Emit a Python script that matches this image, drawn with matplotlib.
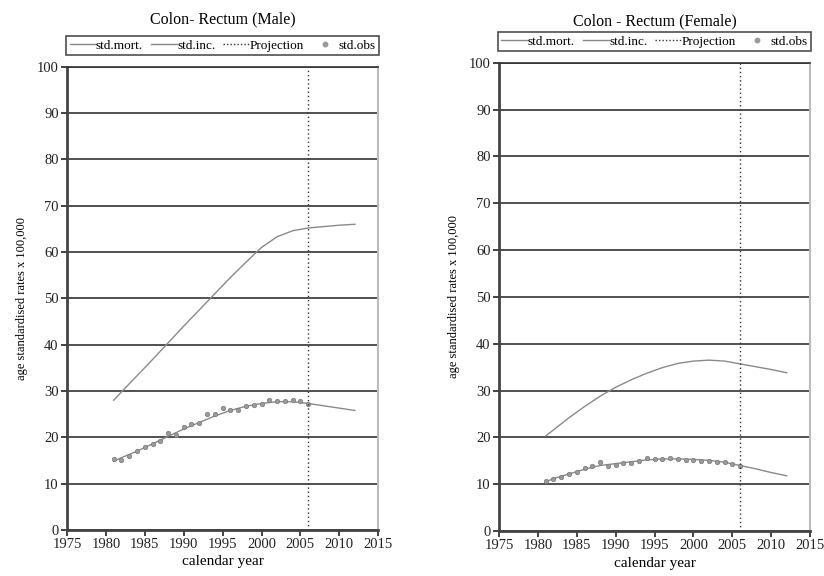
import numpy as np
import matplotlib
matplotlib.use("Agg")
import matplotlib.pyplot as plt
from matplotlib.lines import Line2D

plt.rcParams['font.family'] = ['Liberation Serif', 'DejaVu Serif']

# ---- data ----
years_fit = [1981, 1982, 1984, 1986, 1988, 1990, 1992, 1994, 1996, 1998, 2000,
             2002, 2004, 2006, 2008, 2010, 2012]
obs_years = list(range(1981, 2007))

male_inc = [28.0, 29.8, 33.3, 36.8, 40.4, 44.0, 47.5, 51.0, 54.5, 57.8, 61.0,
            63.3, 64.6, 65.2, 65.5, 65.8, 66.0]
male_mort = [14.8, 15.6, 17.0, 18.6, 20.2, 21.8, 23.2, 24.6, 25.8, 26.7, 27.3,
             27.7, 27.7, 27.3, 26.8, 26.3, 25.8]
male_obs = [15.3, 15.2, 16.0, 17.0, 17.8, 18.5, 19.3, 21.0, 20.5, 22.2, 22.8,
            23.0, 25.0, 25.0, 26.3, 26.0, 25.8, 26.8, 27.0, 27.2, 28.0, 27.8,
            27.8, 28.0, 27.8, 27.2]

fem_inc = [20.3, 21.6, 24.2, 26.6, 28.8, 30.7, 32.3, 33.7, 34.9, 35.8, 36.3,
           36.5, 36.3, 35.7, 35.1, 34.5, 33.8]
fem_mort = [10.5, 11.2, 12.2, 13.2, 14.0, 14.4, 14.8, 15.2, 15.4, 15.4, 15.3,
            15.1, 14.7, 14.0, 13.3, 12.5, 11.8]
fem_obs = [10.7, 11.2, 11.6, 12.1, 12.6, 13.5, 13.8, 14.8, 13.8, 14.2, 14.6,
           14.6, 15.0, 15.5, 15.3, 15.4, 15.5, 15.3, 15.2, 15.1, 14.9, 15.0,
           14.7, 14.7, 14.3, 13.8]

proj_year = 2006
titles = ["Colon- Rectum (Male)", "Colon - Rectum (Female)"]

fig = plt.figure(figsize=(8.24, 5.76), dpi=100)
ax1 = fig.add_axes([0.0813, 0.080, 0.3777, 0.804])
ax2 = fig.add_axes([0.6056, 0.078, 0.3775, 0.813])

line_col = "#8a8a8a"

def draw(ax, inc, mort, obs, title, tpad):
    ax.plot(years_fit, inc, color=line_col, lw=1.0)
    ax.plot(years_fit, mort, color=line_col, lw=1.0)
    ax.plot(obs_years, obs, ls="none", marker="o", ms=3.2, color="#9a9a9a",
            mec="#7a7a7a", mew=0.5)
    ax.axvline(proj_year, color="#333333", ls=(0, (1, 2)), lw=1.0)
    ax.set_xlim(1975, 2015)
    ax.set_ylim(0, 100)
    ax.set_xticks(np.arange(1975, 2016, 5))
    ax.set_yticks(np.arange(0, 101, 10))
    ax.grid(axis="y", color="#333333", lw=1.2)
    ax.set_axisbelow(True)
    for s in ["left", "bottom"]:
        ax.spines[s].set_linewidth(2.0)
        ax.spines[s].set_color("#444444")
    ax.spines["right"].set_color("#bbbbbb")
    ax.spines["right"].set_linewidth(1.5)
    ax.spines["top"].set_color("#333333")
    ax.spines["top"].set_linewidth(1.2)
    ax.tick_params(direction="out", length=4, width=1.2, labelsize=10.5,
                   colors="#222222", pad=2)
    ax.set_xlabel("calendar year", fontsize=11, labelpad=3)
    ax.set_ylabel("age standardised rates x 100,000", fontsize=9, labelpad=6)
    ax.set_title(title, fontsize=11.5, pad=tpad)
    handles = [
        Line2D([], [], color=line_col, lw=1.0),
        Line2D([], [], color=line_col, lw=1.0),
        Line2D([], [], color="#333333", ls=(0, (1, 1.5)), lw=1.0),
        Line2D([], [], ls="none", marker="o", ms=3.2, color="#9a9a9a"),
    ]
    leg = ax.legend(handles, ["std.mort.", "std.inc.", "Projection", "std.obs"],
                    loc="lower center", bbox_to_anchor=(0.5, 1.025), ncol=4,
                    frameon=True, fancybox=False, fontsize=9.5,
                    handlelength=2.0, handletextpad=0.0, columnspacing=0.6,
                    borderpad=0.25, borderaxespad=0.0)
    leg.get_frame().set_edgecolor("#222222")
    leg.get_frame().set_linewidth(1.2)

draw(ax1, male_inc, male_mort, male_obs, titles[0], 31)
draw(ax2, fem_inc, fem_mort, fem_obs, titles[1], 27)

fig.savefig("out.png", dpi=100)
